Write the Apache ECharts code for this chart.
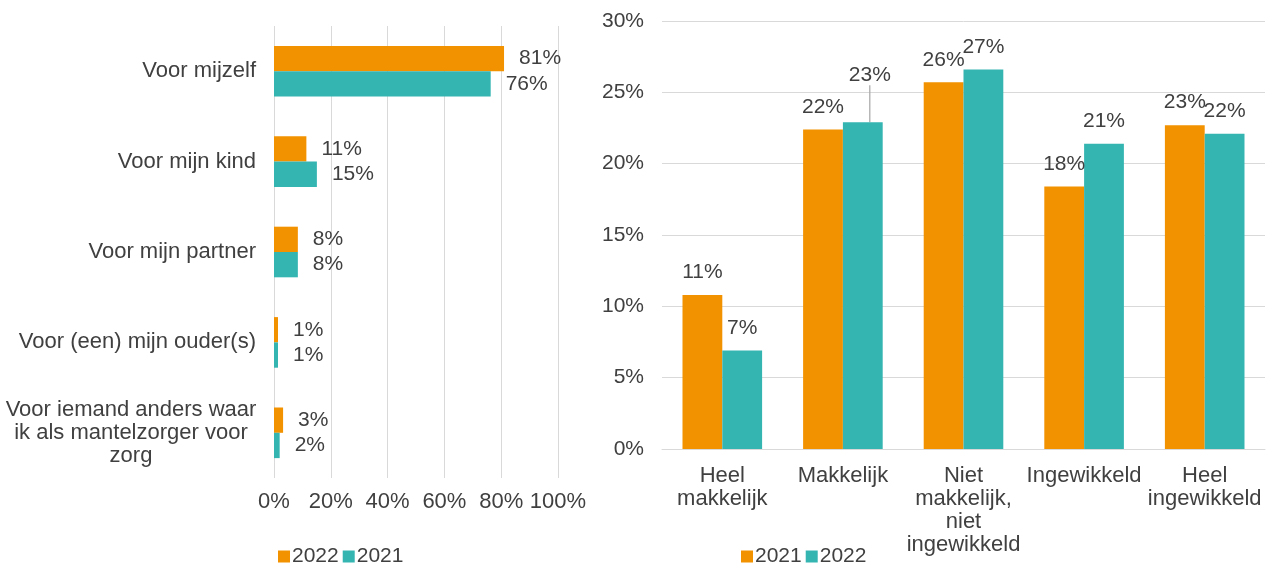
<!DOCTYPE html>
<html>
<head>
<meta charset="UTF-8">
<title>Mantelzorg</title>
<script src="https://cdn.jsdelivr.net/npm/echarts@6/dist/echarts.min.js"></script>
</head>
<body style="margin:0">
<div id="main" style="width:1268px;height:567px;"></div>
<script type="text/javascript">
// left chart: voor wie
var leftCats = ['Voor mijzelf', 'Voor mijn kind', 'Voor mijn partner', 'Voor (een) mijn ouder(s)',
    'Voor iemand anders waar ik als mantelzorger voor zorg'];
var left2022 = [81.0, 11.4, 8.4, 1.4, 3.2];
var left2021 = [76.3, 15.1, 8.4, 1.4, 2.0];
var leftTicks = [0, 20, 40, 60, 80, 100];

// right chart: hoe makkelijk
var rightCats = ['Heel\nmakkelijk', 'Makkelijk', 'Niet\nmakkelijk,\nniet\ningewikkeld', 'Ingewikkeld', 'Heel\ningewikkeld'];
var right2021 = [10.8, 22.4, 25.7, 18.4, 22.7];
var right2022 = [6.9, 22.9, 26.6, 21.4, 22.1];

var ORANGE = '#f39200';
var TEAL = '#35b5b2';
var TXT = '#404040';
var GRID = '#d9d9d9';
var FONT = '"Liberation Sans", Arial, sans-serif';

function pct(p) { return Math.round(p.value) + '%'; }

var myChart = echarts.init(document.getElementById('main'));
myChart.setOption({
    textStyle: { fontFamily: FONT },
    animation: false,
    grid: [
        { left: 274, right: 710, top: 26, bottom: 89 },
        { left: 662, right: 3, top: 21, bottom: 118 }
    ],
    legend: [
        {
            left: 273, top: 541, itemWidth: 12, itemHeight: 12, itemGap: 4,
            icon: 'rect',
            textStyle: { fontSize: 21, color: TXT, padding: [0, 0, 0, -3] },
            data: ['L2022', 'L2021'],
            formatter: function (n) { return n.slice(1); }
        },
        {
            left: 736, top: 541, itemWidth: 12, itemHeight: 12, itemGap: 4,
            icon: 'rect',
            textStyle: { fontSize: 21, color: TXT, padding: [0, 0, 0, -3] },
            data: ['R2021', 'R2022'],
            formatter: function (n) { return n.slice(1); }
        }
    ],
    xAxis: [
        {
            gridIndex: 0, type: 'value', min: leftTicks[0], max: leftTicks[leftTicks.length - 1], interval: 20,
            axisLine: { show: false }, axisTick: { show: false },
            splitLine: { lineStyle: { color: GRID, width: 1 } },
            axisLabel: { fontSize: 22, color: TXT, margin: 13, formatter: '{value}%' }
        },
        {
            gridIndex: 1, type: 'category', data: rightCats,
            axisLine: { lineStyle: { color: GRID, width: 1 } }, axisTick: { show: false },
            axisLabel: { fontSize: 22, color: TXT, margin: 15, lineHeight: 23, interval: 0 }
        }
    ],
    yAxis: [
        {
            gridIndex: 0, type: 'category', data: leftCats, inverse: true,
            axisLine: { show: false }, axisTick: { show: false },
            axisLabel: {
                fontSize: 22, color: TXT, margin: 18, lineHeight: 23,
                formatter: function (v) {
                    if (v.indexOf('iemand') >= 0) {
                        return '{c|Voor iemand anders waar}\n{c|ik als mantelzorger voor}\n{c|zorg}';
                    }
                    return v;
                },
                rich: { c: { width: 250, align: 'center', fontSize: 22, color: TXT, lineHeight: 23 } }
            }
        },
        {
            gridIndex: 1, type: 'value', min: 0, max: 30, interval: 5,
            axisLine: { show: false }, axisTick: { show: false },
            splitLine: { lineStyle: { color: GRID, width: 1 } },
            axisLabel: { fontSize: 21, color: TXT, margin: 18, formatter: '{value}%' }
        }
    ],
    series: [
        {
            name: 'L2022', type: 'bar', xAxisIndex: 0, yAxisIndex: 0, data: left2022,
            itemStyle: { color: ORANGE }, barCategoryGap: '44%', barGap: '0%',
            label: { show: true, position: 'right', distance: 15, fontSize: 21, color: TXT, formatter: pct }
        },
        {
            name: 'L2021', type: 'bar', xAxisIndex: 0, yAxisIndex: 0, data: left2021,
            itemStyle: { color: TEAL }, barCategoryGap: '44%', barGap: '0%',
            label: { show: true, position: 'right', distance: 15, fontSize: 21, color: TXT, formatter: pct }
        },
        {
            name: 'R2021', type: 'bar', xAxisIndex: 1, yAxisIndex: 1, data: right2021,
            itemStyle: { color: ORANGE }, barCategoryGap: '34%', barGap: '0%',
            label: { show: true, position: 'top', distance: 12, fontSize: 21, color: TXT, formatter: pct }
        },
        {
            name: 'R2022', type: 'bar', xAxisIndex: 1, yAxisIndex: 1,
            data: right2022.map(function (v, i) {
                return i === 1 ? { value: v, labelLine: { show: true } } : v;
            }),
            itemStyle: { color: TEAL }, barCategoryGap: '34%', barGap: '0%',
            label: { show: true, position: 'top', distance: 12, fontSize: 21, color: TXT, formatter: pct },
            labelLine: { show: false, lineStyle: { color: '#a6a6a6', width: 1.2 } },
            labelLayout: function (p) {
                if (p.dataIndex === 1) return { dx: 7, dy: -25 };
                return {};
            }
        }
    ]
});
</script>
</body>
</html>
